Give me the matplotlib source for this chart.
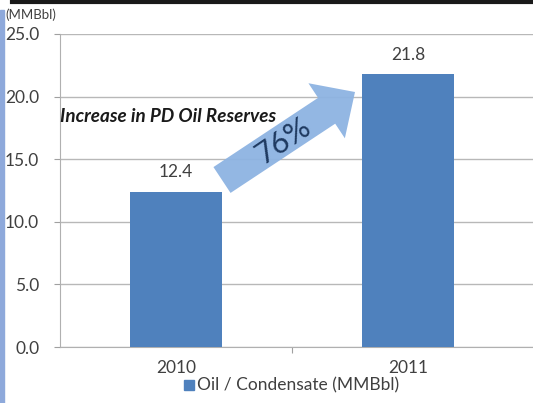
import matplotlib
matplotlib.use("Agg")
import matplotlib.pyplot as plt
from matplotlib.patches import FancyArrow, Rectangle
from matplotlib.lines import Line2D

categories = ["2010", "2011"]
values = [12.4, 21.8]
value_labels = ["12.4", "21.8"]
yticks = [0, 5, 10, 15, 20, 25]
series_name = "Oil / Condensate (MMBbl)"
unit_label = "(MMBbl)"
annotation = "Increase in PD Oil Reserves"
pct_label = "76%"

plt.rcParams['font.family'] = ['Lato', 'DejaVu Sans']
W, H = 533, 403
fig = plt.figure(figsize=(W/100, H/100), dpi=100)
ax = fig.add_axes([60/W, 1-347/H, (533-60)/W, (347-34)/H])

bar_color = "#4F81BD"
x = list(range(len(categories)))
ax.bar(x, values, width=0.4, color=bar_color, zorder=3)
ax.set_xlim(-0.5, 1.539)
ax.set_ylim(0, 25)
ax.set_yticks(yticks)
ax.set_yticklabels([f"{v:.1f}" for v in yticks], fontsize=12.5, color="#404040")
ax.set_xticks([0.5])
ax.set_xticklabels([])
ax.tick_params(axis='x', length=4, color="#a0a0a0")
ax.tick_params(axis='y', length=4, color="#a0a0a0", pad=11)
ax.grid(axis='y', color="#b8b8b8", linewidth=1, zorder=0)
for s in ["top", "right"]:
    ax.spines[s].set_visible(False)
ax.spines["left"].set_color("#b0b0b0")
ax.spines["bottom"].set_color("#b0b0b0")

for xi, v, lab in zip(x, values, value_labels):
    ax.text(xi, v + 0.9, lab, ha="center", va="bottom", fontsize=12.5, color="#404040")
for xi, c in zip(x, categories):
    ax.text(xi, -1.0, c, ha="center", va="top", fontsize=12.5, color="#404040")

# overlay in pixel coordinates for the arrow
ov = fig.add_axes([0, 0, 1, 1], facecolor="none")
ov.set_xlim(0, W)
ov.set_ylim(H, 0)
ov.axis("off")
ov.add_patch(FancyArrow(222, 180, 133, -88, width=31, head_width=66, head_length=34,
                        length_includes_head=True, color="#8DB3E2", alpha=0.95, lw=0))
ov.text(283, 141, pct_label, rotation=34, ha="center", va="center",
        fontsize=22, color="#1F3A60")
ov.text(60, 116, annotation, ha="left", va="center", fontsize=13.6,
        fontweight="bold", fontstyle="italic", color="#1a1a1a")
ov.text(5, 15, unit_label, ha="left", va="center", fontsize=9.5, color="#404040")

# legend
ov.add_patch(Rectangle((184, 380), 10, 10, color=bar_color))
ov.text(197, 385, series_name, ha="left", va="center", fontsize=12.5, color="#404040")

# decorative edges
ov.add_line(Line2D([12, W], [1.5, 1.5], color="#1a1a1a", lw=3))
ov.add_patch(Rectangle((0, 10), 4, H - 10, color="#8EA9DB"))

fig.savefig("out.png", dpi=100)
